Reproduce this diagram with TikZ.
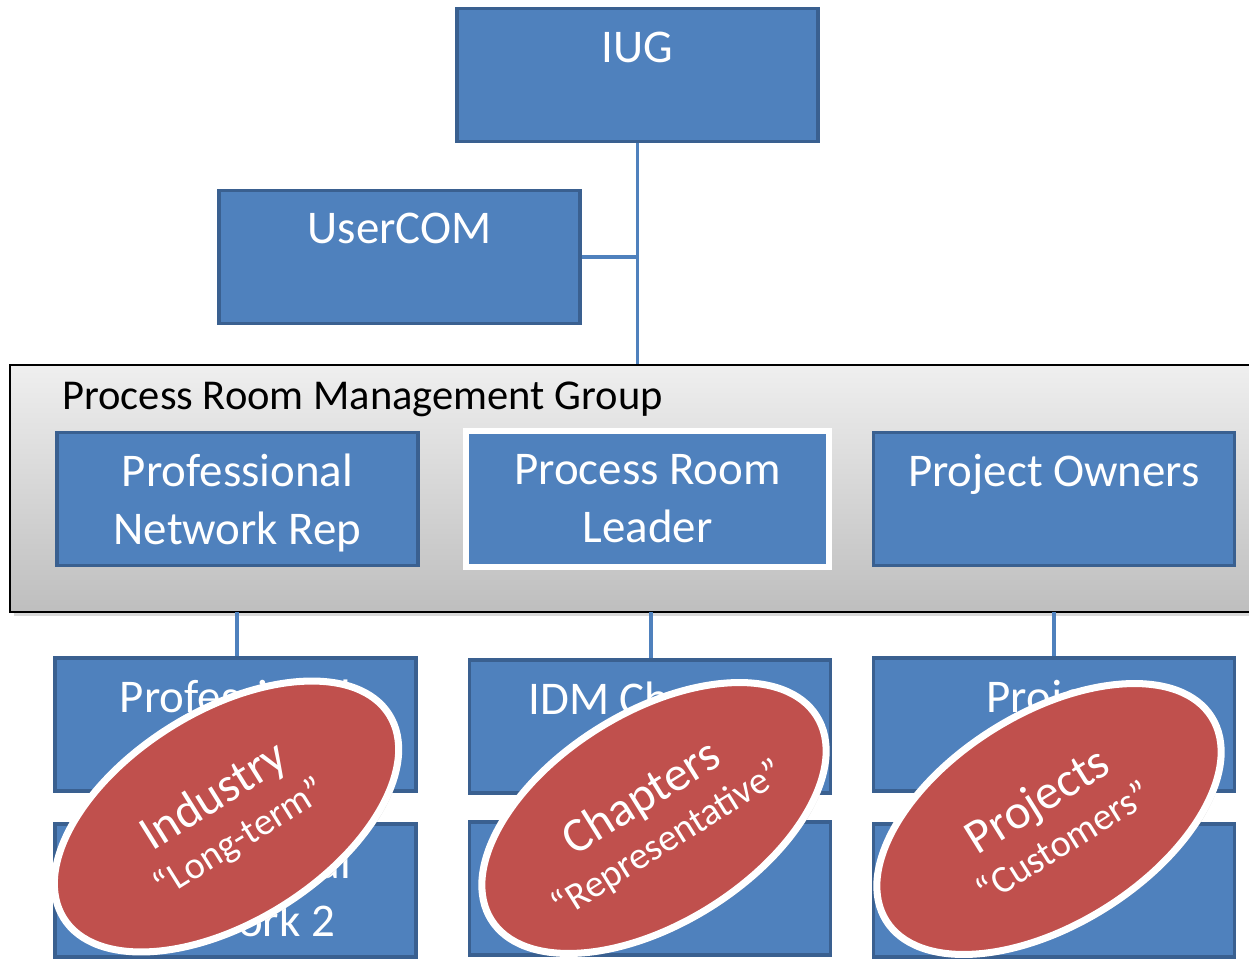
\documentclass[tikz,border=0pt]{standalone}
\usepackage{fontspec}
\setmainfont{Carlito}
\usetikzlibrary{shapes.geometric,shadows}
\definecolor{boxblue}{HTML}{4F81BD}
\definecolor{boxedge}{HTML}{3A6090}
\definecolor{ovalred}{HTML}{C0504D}
\definecolor{grouptop}{HTML}{EFEFEF}
\definecolor{groupbot}{HTML}{BEBEBE}
\newcommand\ovalbigfont{\fontsize{27.8pt}{30pt}\selectfont}
\begin{document}
\begin{tikzpicture}[x=0.02cm,y=-0.02cm,
  bluebox/.style={draw=boxedge, fill=boxblue, line width=2pt, rectangle, inner sep=0pt,
    minimum width=7.22cm, minimum height=2.66cm},
  leaderbox/.style={draw=white, fill=boxblue, line width=3.4pt, rectangle, inner sep=0pt,
    minimum width=7.26cm, minimum height=2.72cm,
    drop shadow={shadow xshift=1.5pt, shadow yshift=-1.5pt, opacity=0.35}},
  groupbox/.style={draw=black, line width=1.1pt, rectangle, inner sep=0pt,
    top color=grouptop, bottom color=groupbot,
    minimum width=24.9cm, minimum height=4.94cm,
    drop shadow={shadow xshift=2pt, shadow yshift=-2pt, opacity=0.3}},
  boxtext/.style={anchor=north, inner sep=0pt, text=white, align=center,
    font=\fontsize{26.7pt}{33pt}\selectfont},
  grouptext/.style={anchor=base west, inner sep=0pt, text=black,
    font=\fontsize{24.2pt}{28pt}\selectfont},
  link/.style={draw=boxblue, line width=2.2pt},
  oval/.style={ellipse, draw=white, fill=ovalred, line width=4pt, inner sep=0pt,
    minimum width=7.68cm, minimum height=4.22cm, rotate=32, text=white, align=center,
    font=\fontsize{21.8pt}{26.5pt}\selectfont,
    drop shadow={shadow xshift=1.5pt, shadow yshift=-1.5pt, opacity=0.3}},
]
\useasboundingbox (0,0) rectangle (1249,958);
\clip (0,0) rectangle (1249,958);

% top boxes
\node[bluebox] (iug) at (637.5,75) {};
\node[boxtext] (iugt) at (637.5,32) {IUG};
\node[bluebox] (usercom) at (399.5,257) {};
\node[boxtext] (usercomt) at (399.5,213) {UserCOM};

% connectors to the group
\coordinate (grouptopc) at (637.5,365);
\draw[link] (iug.south) -- (grouptopc);
\draw[link] (usercom.east) -- (usercom.east -| iug.south);

% group box
\node[groupbox] (group) at (632.5,488.5) {};
\node[grouptext] (groupt) at (62,409) {Process Room Management Group};

\node[bluebox] (pnr) at (237.5,499) {};
\node[boxtext] (pnrt) at (237.5,454) {Professional\\Network Rep};
\node[leaderbox] (prl) at (647.5,499) {};
\node[boxtext] (prlt) at (647.5,454) {Process Room\\Leader};
\node[bluebox] (po) at (1054,499) {};
\node[boxtext] (pot) at (1054,454) {Project Owners};

% lower boxes
\node[bluebox] (pn1) at (235.5,724.5) {};
\node[boxtext] (pn1t) at (235.5,680) {Professional};
\node[bluebox] (pn2) at (235.5,890.5) {};
\node[boxtext] (pn2t) at (235.5,846) {Professional\\Network 2};
\node[bluebox] (idm1) at (650,726.5) {};
\node[boxtext] (idm1t) at (650,682) {IDM Chapter};
\node[bluebox] (idm2) at (650,888.5) {};
\node[bluebox] (pr1) at (1054,724.5) {};
\node[boxtext] (pr1t) at (1054,680) {Project};
\node[bluebox] (pr2) at (1054,890.5) {};

\coordinate (gb1) at (237,612);
\coordinate (gb2) at (651,612);
\coordinate (gb3) at (1054,612);
\draw[link] (gb1) -- (gb1 |- pn1.north);
\draw[link] (gb2) -- (gb2 |- idm1.north);
\draw[link] (gb3) -- (gb3 |- pr1.north);

% ovals
\node[oval] (industry) at (226.5,816.5)
  {{\ovalbigfont Industry}\\“Long-term”};
\node[oval] (chapters) at (654,818)
  {{\ovalbigfont Chapters}\\“Representative”};
\node[oval] (projects) at (1049,819)
  {{\ovalbigfont Projects}\\“Customers”};
\end{tikzpicture}
\end{document}
